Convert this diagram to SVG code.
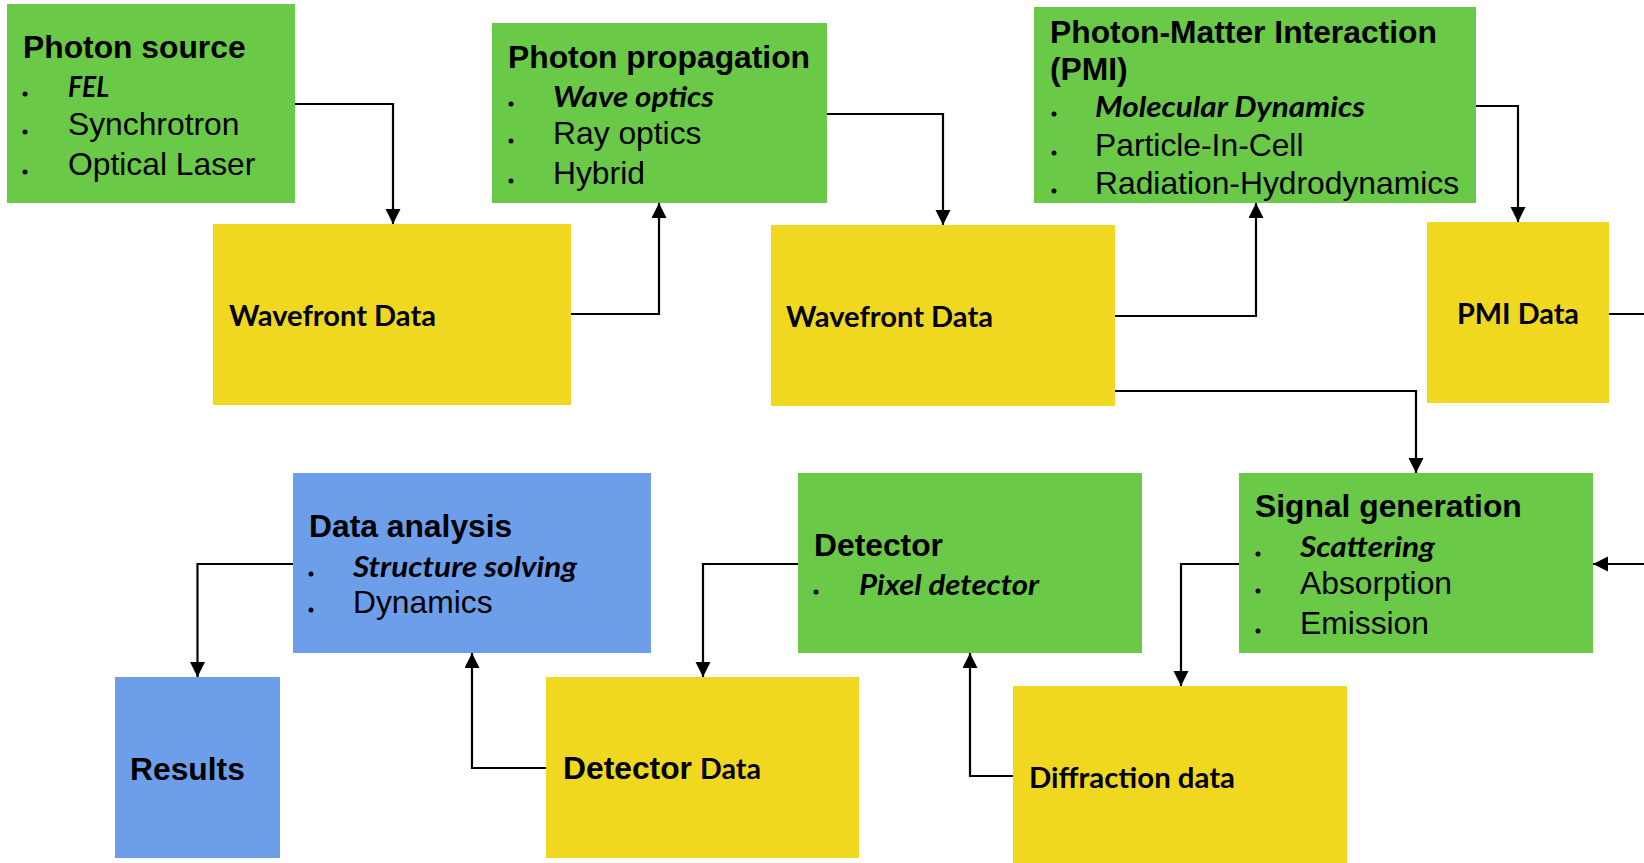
<svg xmlns="http://www.w3.org/2000/svg" width="1644" height="863" viewBox="0 0 1644 863">
<style>
.g{fill:#6AC947}.y{fill:#F0D820}.b{fill:#6C9EE9}
.h{font-family:"Liberation Sans",Arial,sans-serif;font-weight:bold;font-size:31.8px;fill:#000}
.r{font-family:"Liberation Sans",Arial,sans-serif;font-size:31.8px;fill:#000}
.c{font-family:Lato,"Open Sans",sans-serif;font-weight:bold;font-size:29px;fill:#000}
.ci{font-family:Lato,"Open Sans",sans-serif;font-weight:bold;font-style:italic;font-size:29px;fill:#000}
.dot{fill:#000}
.ln{fill:none;stroke:#000;stroke-width:2.2}
</style>
<defs>
<marker id="arr" markerUnits="userSpaceOnUse" markerWidth="18" markerHeight="16" refX="15" refY="7.5" orient="auto"><path d="M0,0 L15,7.5 L0,15 z" fill="#000"/></marker>
</defs>
<rect width="1644" height="863" fill="#fff"/>

<g id="connectors">
<path class="ln" d="M295,104 H393 V224" marker-end="url(#arr)"/>
<path class="ln" d="M571,314 H659 V203" marker-end="url(#arr)"/>
<path class="ln" d="M827,114 H943 V225" marker-end="url(#arr)"/>
<path class="ln" d="M1115,316 H1256 V203" marker-end="url(#arr)"/>
<path class="ln" d="M1476,106 H1518 V222" marker-end="url(#arr)"/>
<path class="ln" d="M1115,391 H1416 V473" marker-end="url(#arr)"/>
<path class="ln" d="M1609,314 H1644"/>
<path class="ln" d="M1644,564 H1593" marker-end="url(#arr)"/>
<path class="ln" d="M1239,564 H1181 V686" marker-end="url(#arr)"/>
<path class="ln" d="M1013,776 H970 V653" marker-end="url(#arr)"/>
<path class="ln" d="M798,564 H703 V677" marker-end="url(#arr)"/>
<path class="ln" d="M546,768 H472 V653" marker-end="url(#arr)"/>
<path class="ln" d="M293,564 H197.5 V677" marker-end="url(#arr)"/>
</g>

<g id="photon-source">
<rect class="g" x="7" y="4" width="288" height="199"/>
<text class="h" x="23" y="58">Photon source</text>
<circle class="dot" cx="25" cy="94" r="2.5"/><text class="ci" x="68" y="97" textLength="41" lengthAdjust="spacingAndGlyphs">FEL</text>
<circle class="dot" cx="25" cy="132" r="2.5"/><text class="r" x="68" y="135">Synchrotron</text>
<circle class="dot" cx="25" cy="172" r="2.5"/><text class="r" x="68" y="175">Optical Laser</text>
</g>

<g id="photon-propagation">
<rect class="g" x="492" y="23" width="335" height="180"/>
<text class="h" x="508" y="68">Photon propagation</text>
<circle class="dot" cx="511" cy="104" r="2.5"/><text class="ci" x="553" y="107" textLength="161" lengthAdjust="spacingAndGlyphs">Wave optics</text>
<circle class="dot" cx="511" cy="141" r="2.5"/><text class="r" x="553" y="144">Ray optics</text>
<circle class="dot" cx="511" cy="181" r="2.5"/><text class="r" x="553" y="184">Hybrid</text>
</g>

<g id="pmi">
<rect class="g" x="1034" y="7" width="442" height="196"/>
<text class="h" x="1050" y="43">Photon-Matter Interaction</text>
<text class="h" x="1050" y="80">(PMI)</text>
<circle class="dot" cx="1054" cy="114" r="2.5"/><text class="ci" x="1095" y="117" textLength="270" lengthAdjust="spacingAndGlyphs">Molecular Dynamics</text>
<circle class="dot" cx="1054" cy="153" r="2.5"/><text class="r" x="1095" y="156">Particle-In-Cell</text>
<circle class="dot" cx="1054" cy="191" r="2.5"/><text class="r" x="1095" y="194">Radiation-Hydrodynamics</text>
</g>

<g id="wavefront-data-1">
<rect class="y" x="213" y="224" width="358" height="181"/>
<text class="c" x="229" y="326" textLength="207" lengthAdjust="spacingAndGlyphs">Wavefront Data</text>
</g>

<g id="wavefront-data-2">
<rect class="y" x="771" y="225" width="344" height="181"/>
<text class="c" x="786" y="327" textLength="207" lengthAdjust="spacingAndGlyphs">Wavefront Data</text>
</g>

<g id="pmi-data">
<rect class="y" x="1427" y="222" width="182" height="181"/>
<text class="c" x="1457" y="324" textLength="122" lengthAdjust="spacingAndGlyphs">PMI Data</text>
</g>

<g id="data-analysis">
<rect class="b" x="293" y="473" width="358" height="180"/>
<text class="h" x="309" y="537">Data analysis</text>
<circle class="dot" cx="311" cy="574" r="2.5"/><text class="ci" x="353" y="577" textLength="224" lengthAdjust="spacingAndGlyphs">Structure solving</text>
<circle class="dot" cx="311" cy="610" r="2.5"/><text class="r" x="353" y="613">Dynamics</text>
</g>

<g id="detector">
<rect class="g" x="798" y="473" width="344" height="180"/>
<text class="h" x="814" y="556">Detector</text>
<circle class="dot" cx="816" cy="592" r="2.5"/><text class="ci" x="859" y="595" textLength="180" lengthAdjust="spacingAndGlyphs">Pixel detector</text>
</g>

<g id="signal-generation">
<rect class="g" x="1239" y="473" width="354" height="180"/>
<text class="h" x="1255" y="517">Signal generation</text>
<circle class="dot" cx="1258" cy="554" r="2.5"/><text class="ci" x="1300" y="557" textLength="135" lengthAdjust="spacingAndGlyphs">Scattering</text>
<circle class="dot" cx="1258" cy="591" r="2.5"/><text class="r" x="1300" y="594">Absorption</text>
<circle class="dot" cx="1258" cy="631" r="2.5"/><text class="r" x="1300" y="634">Emission</text>
</g>

<g id="results">
<rect class="b" x="115" y="677" width="165" height="181"/>
<text class="h" x="130" y="780">Results</text>
</g>

<g id="detector-data">
<rect class="y" x="546" y="677" width="313" height="181"/>
<text class="h" x="563" y="779">Detector</text>
<text class="c" x="700" y="779" textLength="61" lengthAdjust="spacingAndGlyphs">Data</text>
</g>

<g id="diffraction-data">
<rect class="y" x="1013" y="686" width="334" height="177"/>
<text class="c" x="1029" y="788" textLength="206" lengthAdjust="spacingAndGlyphs">Diffraction data</text>
</g>
</svg>
